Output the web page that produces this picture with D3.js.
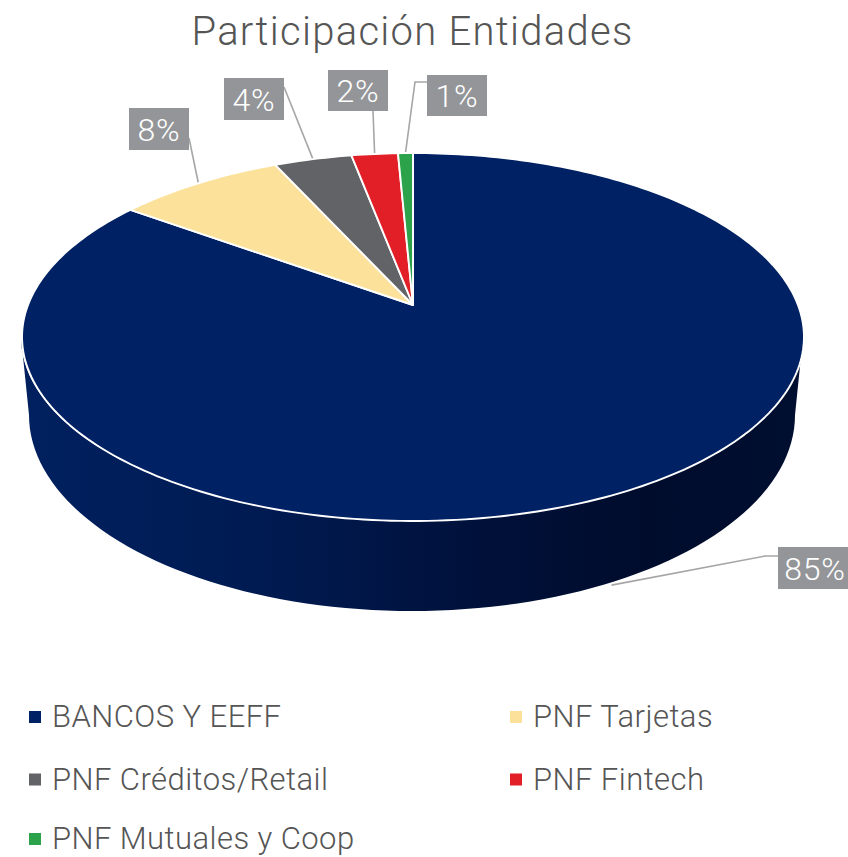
<!DOCTYPE html>
<html><head><meta charset="utf-8">
<script src="https://cdn.jsdelivr.net/npm/d3@7/dist/d3.min.js"></script>
<style>html,body{margin:0;padding:0;background:#fff}svg{display:block}text{font-family:Roboto,sans-serif;font-weight:300}</style>
</head><body><div id="c"></div>
<script>
const categories=["BANCOS Y EEFF","PNF Tarjetas","PNF Créditos/Retail","PNF Fintech","PNF Mutuales y Coop"];
const values=[85.0,8.2,3.8,2.27,0.73];
const colors=["#002163","#FBE199","#626366","#E21F26","#2CA24A"];
const title="Participación Entidades";

const W=848,H=857;
const svg=d3.select("#c").append("svg").attr("width",W).attr("height",H);
const defs=svg.append("defs");
const grad=defs.append("linearGradient").attr("id","wall").attr("x1",0).attr("x2",1).attr("y1",0).attr("y2",0);
[[0,"#00205f"],[0.3,"#001b52"],[0.6,"#001039"],[0.8,"#000c2c"],[1,"#000e30"]].forEach(s=>grad.append("stop").attr("offset",s[0]).attr("stop-color",s[1]));

// perspective disc: apex (ax,ay); rim is the ellipse seen in the picture
const ax=413,ay=305,A=385,B=178.4,p=0.174;
const proj=t=>{const u=Math.sin(t),v=-Math.cos(t),w=1-p*v;return [ax+A*u/w,ay+B*v/w];};
const line=d3.line();
const pie=d3.pie().sort(null).value(d=>d);
const arcs=pie(values);
const pct=d3.format(".0%");

// leader lines, under the pie
const labelBoxes=[
 {x:778,y:547,w:70,h:42,dx:2,elbow:[[778,556],[765,556]]},
 {x:129,y:108,w:60,h:42,dx:0,elbow:[[189,138]]},
 {x:224,y:78,w:60,h:42,dx:0,elbow:[[284,87]]},
 {x:328,y:70,w:60,h:41,dx:0,elbow:[[373,111]]},
 {x:427,y:75,w:60,h:41,dx:0,elbow:[[427,82],[415,82]]}
];
const gl=svg.append("g").attr("fill","none").attr("stroke","#a6a6a6").attr("stroke-width",1.6);
arcs.forEach((a,i)=>{
  const m=(a.startAngle+a.endAngle)/2;
  let e=proj(m);
  if(i===0) e=[ax+(e[0]-ax)*0.96,e[1]+92];
  gl.append("path").attr("d",line([...labelBoxes[i].elbow,e]));
});

// side wall
const cx=412,wy=415,wrx=383,wry=196,ucy=337,urx=391,ury=184;
const front=d3.range(0,180.1,2).map(d=>d*Math.PI/180);
const lowerFront=front.map(t=>[cx-wrx*Math.cos(t),wy+wry*Math.sin(t)]);
const upperFront=front.map(t=>[cx-urx*Math.cos(t),ucy+ury*Math.sin(t)]);
svg.append("path").attr("fill","url(#wall)")
  .attr("d",line([...upperFront,...lowerFront.slice().reverse()])+"Z");

// top face
const gt=svg.append("g");
arcs.forEach((a,i)=>{
  const n=Math.max(3,Math.ceil((a.endAngle-a.startAngle)/0.02));
  const rim=d3.range(n+1).map(k=>proj(a.startAngle+(a.endAngle-a.startAngle)*k/n));
  gt.append("path").attr("fill",colors[i]).attr("stroke","#fff").attr("stroke-width",1.9).attr("stroke-linejoin","round")
    .attr("d",line([[ax,ay],...rim])+"Z");
});

// value labels
const gb=svg.append("g");
arcs.forEach((a,i)=>{
  const b=labelBoxes[i];
  gb.append("rect").attr("x",b.x).attr("y",b.y).attr("width",b.w).attr("height",b.h).attr("fill","#939598");
  gb.append("text").attr("x",b.x+b.w/2+b.dx).attr("y",b.y+b.h/2+11.5).attr("text-anchor","middle")
    .attr("font-size",32).attr("fill","#fff").attr("letter-spacing",0.8).text(pct(values[i]/100));
});

// title
svg.append("text").attr("x",412.5).attr("y",45).attr("text-anchor","middle").attr("font-size",40)
  .attr("fill","#555").attr("letter-spacing",1.28).text(title);

// legend
const lx=[29,510],ly=[717,779.5,839];
categories.forEach((c,i)=>{
  const col=i%2,row=Math.floor(i/2);
  svg.append("rect").attr("x",lx[col]).attr("y",ly[row]-6).attr("width",12).attr("height",12).attr("fill",colors[i]);
  svg.append("text").attr("x",lx[col]+23).attr("y",ly[row]+10).attr("font-size",31)
    .attr("fill","#555").attr("letter-spacing",0.44).text(c);
});
</script></body></html>
